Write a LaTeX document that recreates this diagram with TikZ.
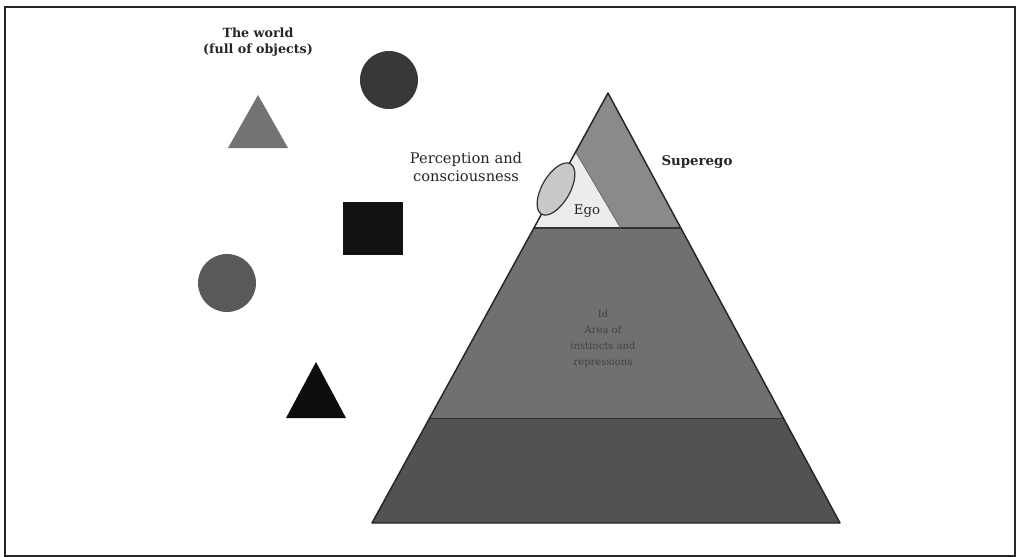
\documentclass[tikz,border=0pt]{standalone}
\usepackage{fontspec}
\usetikzlibrary{calc}
\setmainfont{DejaVu Serif}
\definecolor{superegoC}{HTML}{8A8A8A}
\definecolor{egoC}{HTML}{ECECEC}
\definecolor{idC}{HTML}{707070}
\definecolor{baseC}{HTML}{525252}
\definecolor{ellC}{HTML}{C8C8C8}
\definecolor{idtxt}{HTML}{424242}
\begin{document}
\begin{tikzpicture}[x=0.75pt,y=-0.75pt,
  lbl/.style={inner sep=0pt,align=center,text=black!85},
  edge/.style={draw=black!85,line width=1.1pt,line join=round}]
\useasboundingbox (0,0) rectangle (1022,557);
\fill[white] (0,0) rectangle (1022,557);
\draw[black!85,line width=1.6pt] (5,7) rectangle (1015,556);

% pyramid corner points
\coordinate (apex) at (608,93);
\coordinate (bl) at (372,523);
\coordinate (br) at (840,523);
\coordinate (l1) at ($(apex)!0.314!(bl)$);
\coordinate (r1) at ($(apex)!0.314!(br)$);
\coordinate (l2) at ($(apex)!0.756!(bl)$);
\coordinate (r2) at ($(apex)!0.756!(br)$);
\coordinate (egoTop) at ($(apex)!0.137!(bl)$);
\coordinate (egoR) at ($(l1)!0.59!(r1)$);

% layers
\fill[baseC] (l2) -- (r2) -- (br) -- (bl) -- cycle;
\fill[idC] (l1) -- (r1) -- (r2) -- (l2) -- cycle;
\fill[superegoC] (apex) -- (r1) -- (egoR) -- (egoTop) -- cycle;
\fill[egoC] (egoTop) -- (egoR) -- (l1) -- cycle;
\draw[black!80,line width=0.8pt] (l1) -- (r1);
\draw[black!80,line width=0.8pt] (l2) -- (r2);
\draw[black!60,line width=0.6pt] (egoTop) -- (egoR);
\draw[edge] (apex) -- (br) -- (bl) -- cycle;

% perception ellipse
\draw[fill=ellC,draw=black!80,line width=0.9pt,rotate around={-30:(556,189)}] (556,189) ellipse [x radius=14, y radius=29];

% objects of the world
\fill[black!55] (228,148) -- (288,148) -- (258,95) -- cycle;
\fill[black!78] (389,80) circle [radius=29];
\fill[black!93] (343,202) rectangle (403,255);
\fill[black!65] (227,283) circle [radius=29];
\fill[black!95] (286,418) -- (346,418) -- (316,362) -- cycle;

% labels
\node[lbl,font=\bfseries\fontsize{9.5}{12.5}\selectfont] (world) at (258,42) {The world\\(full of objects)};
\node[lbl,font=\fontsize{11}{13}\selectfont] (percep) at (466,167) {Perception and\\consciousness};
\node[lbl,font=\bfseries\fontsize{10}{12}\selectfont] (superego) at (697,162) {Superego};
\node[lbl,font=\fontsize{10}{12}\selectfont] (ego) at (587,211) {Ego};
\node[lbl,text=idtxt,font=\fontsize{7.5}{12}\selectfont] (id) at (603,339) {Id\\Area of\\instincts and\\repressions};
\end{tikzpicture}
\end{document}
